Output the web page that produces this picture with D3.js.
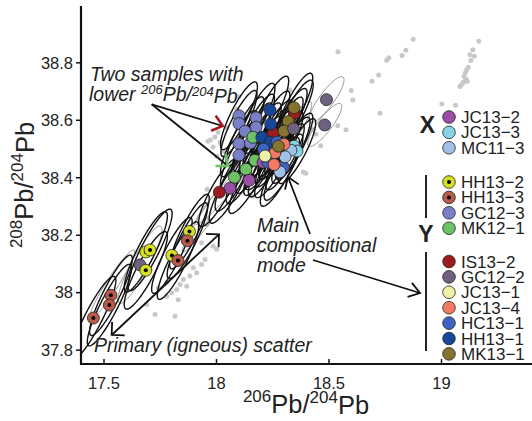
<!DOCTYPE html>
<html>
<head>
<meta charset="utf-8">
<script src="https://cdn.jsdelivr.net/npm/d3@7"></script>
<style>
body { margin: 0; background: #fff; }
text { font-family: "Liberation Sans", Arial, sans-serif; }
</style>
</head>
<body>
<div id="chart"></div>
<script>
// ---- data ----
const xTicks = [17.5, 18, 18.5, 19];
const yTicks = [37.8, 38, 38.2, 38.4, 38.6, 38.8];

const sampleNames  = ["JC13−2", "JC13−3", "MC11−3", "HH13−2", "HH13−3", "GC12−3", "MK12−1",
                      "IS13−2", "GC12−2", "JC13−1", "JC13−4", "HC13−1", "HH13−1", "MK13−1"];
const sampleColors = ["#9c4fa6", "#86d4e6", "#a3c0e6", "#d9e021", "#b95b4b", "#7a80c8", "#6ec266",
                      "#9e1b20", "#6f6180", "#eef0a8", "#f37b63", "#3f63c0", "#17479b", "#85732e"];
const dottedSamples = ["HH13−2", "HH13−3"];
const greyEllipseSamples = ["GC12−2"];

const legendGroupX  = ["JC13−2", "JC13−3", "MC11−3"];
const legendGroupY1 = ["HH13−2", "HH13−3", "GC12−3", "MK12−1"];
const legendGroupY2 = ["IS13−2", "GC12−2", "JC13−1", "JC13−4", "HC13−1", "HH13−1", "MK13−1"];

// grey background data [206Pb/204Pb, 208Pb/204Pb]
const background = [
  [18.542,38.837],[18.876,38.880],[18.844,38.842],[18.827,38.824],[18.768,38.816],[18.759,38.807],
  [18.723,38.756],[18.693,38.734],[18.601,38.702],[18.608,38.669],[18.729,38.623],[18.329,38.704],
  [19.004,38.655],[19.065,38.651],[19.168,38.873],[19.141,38.844],[19.129,38.826],[19.148,38.821],
  [19.133,38.806],[19.121,38.783],[19.114,38.774],[19.108,38.763],[19.102,38.751],[19.110,38.742],
  [19.117,38.734],[19.099,38.730],[19.090,38.721],[19.084,38.716],[18.541,38.579],[18.578,38.565],
  [18.465,38.510],[18.388,38.418],[18.399,38.414],[18.101,38.680],[18.093,38.637],[18.431,38.566],
  [18.445,38.550],
  [18.048,38.573],[18.009,38.557],[18.018,38.522],[17.964,38.525],[17.987,38.505],[18.031,38.491],
  [18.004,38.473],[18.049,38.463],[17.960,38.358],[18.164,38.334],[18.076,38.334],[17.975,38.530],
  [17.995,38.540],
  [17.969,38.253],[17.959,38.236],[17.936,38.172],[17.987,38.160],[18.003,38.149],[17.951,38.114],
  [17.936,38.096],[17.899,38.085],[17.914,38.068],[17.884,38.056],[17.855,38.044],[17.870,38.021],
  [17.840,38.027],[17.825,38.009],[17.803,37.998],[17.781,37.986],[17.832,37.974],[17.744,38.015],
  [17.692,37.957],[17.729,37.922],[17.818,37.916],[17.781,38.034]
];

// analyses: [sample, 206Pb/204Pb, 208Pb/204Pb, err206, err208, rho]
const analyses = [
  ["GC12−3", 18.102, 38.614, 0.082, 0.118, 0.86],
  ["GC12−3", 18.178, 38.607, 0.084, 0.120, 0.86],
  ["GC12−3", 18.102, 38.587, 0.080, 0.115, 0.87],
  ["GC12−3", 18.178, 38.574, 0.082, 0.115, 0.86],
  ["GC12−3", 18.129, 38.560, 0.084, 0.120, 0.87],
  ["GC12−3", 18.102, 38.517, 0.082, 0.115, 0.86],
  ["GC12−3", 18.153, 38.519, 0.086, 0.122, 0.87],
  ["GC12−3", 18.102, 38.477, 0.082, 0.115, 0.86],
  ["MK12−1", 18.164, 38.539, 0.086, 0.120, 0.87],
  ["MK12−1", 18.173, 38.459, 0.085, 0.115, 0.86],
  ["MK12−1", 18.133, 38.428, 0.088, 0.120, 0.87],
  ["MK12−1", 18.082, 38.400, 0.086, 0.118, 0.86],
  ["JC13−2", 18.147, 38.389, 0.090, 0.115, 0.87],
  ["JC13−2", 18.062, 38.362, 0.092, 0.122, 0.87],
  ["JC13−2", 18.209, 38.452, 0.086, 0.115, 0.86],
  ["IS13−2", 18.015, 38.348, 0.092, 0.120, 0.87],
  ["IS13−2", 18.255, 38.553, 0.086, 0.115, 0.86],
  ["IS13−2", 18.349, 38.623, 0.083, 0.115, 0.86],
  ["HH13−1", 18.240, 38.634, 0.083, 0.118, 0.86],
  ["HH13−1", 18.243, 38.585, 0.085, 0.115, 0.87],
  ["HH13−1", 18.204, 38.539, 0.086, 0.120, 0.86],
  ["HH13−1", 18.240, 38.522, 0.085, 0.115, 0.86],
  ["HC13−1", 18.211, 38.498, 0.086, 0.115, 0.87],
  ["HC13−1", 18.271, 38.522, 0.085, 0.118, 0.86],
  ["HC13−1", 18.231, 38.452, 0.087, 0.120, 0.86],
  ["HC13−1", 18.300, 38.435, 0.086, 0.115, 0.87],
  ["JC13−3", 18.347, 38.508, 0.083, 0.115, 0.86],
  ["JC13−3", 18.360, 38.491, 0.083, 0.113, 0.86],
  ["MC11−3", 18.333, 38.494, 0.085, 0.115, 0.86],
  ["MC11−3", 18.307, 38.471, 0.085, 0.115, 0.87],
  ["MC11−3", 18.284, 38.419, 0.087, 0.120, 0.86],
  ["JC13−4", 18.302, 38.515, 0.085, 0.115, 0.86],
  ["JC13−4", 18.262, 38.485, 0.086, 0.118, 0.87],
  ["JC13−4", 18.258, 38.444, 0.086, 0.115, 0.86],
  ["JC13−1", 18.218, 38.474, 0.087, 0.118, 0.86],
  ["MK13−1", 18.347, 38.642, 0.083, 0.120, 0.86],
  ["MK13−1", 18.321, 38.594, 0.084, 0.115, 0.86],
  ["MK13−1", 18.302, 38.561, 0.085, 0.118, 0.87],
  ["MK13−1", 18.277, 38.508, 0.085, 0.115, 0.86],
  ["GC12−2", 18.491, 38.670, 0.078, 0.080, 0.86],
  ["GC12−2", 18.483, 38.582, 0.076, 0.075, 0.86],
  ["GC12−2", 18.345, 38.569, 0.080, 0.095, 0.88],
  ["GC12−2", 17.662, 38.095, 0.098, 0.135, 0.90],
  ["HH13−2", 17.688, 38.140, 0.096, 0.140, 0.89],
  ["HH13−2", 17.707, 38.147, 0.098, 0.142, 0.89],
  ["HH13−2", 17.688, 38.076, 0.096, 0.135, 0.88],
  ["HH13−2", 17.804, 38.128, 0.090, 0.132, 0.89],
  ["HH13−2", 17.882, 38.211, 0.088, 0.130, 0.89],
  ["HH13−3", 17.831, 38.110, 0.092, 0.135, 0.89],
  ["HH13−3", 17.873, 38.179, 0.090, 0.132, 0.89],
  ["HH13−3", 17.533, 37.989, 0.095, 0.140, 0.90],
  ["HH13−3", 17.526, 37.955, 0.098, 0.142, 0.90],
  ["HH13−3", 17.455, 37.910, 0.100, 0.145, 0.90]
];

// long, poorly constrained analyses plotted as grey ellipses only
const extraEllipses = [
  [18.027, 38.341, 0.120, 0.105, 0.96],
  [17.538, 38.027, 0.100, 0.120, 0.95],
  [17.990, 38.300, 0.140, 0.160, 0.97]
];

// ---- layout ----
const width = 532, height = 421;
const margin = {top: 6, right: 1, bottom: 57, left: 81};

const svg = d3.select("#chart").append("svg")
    .attr("width", width)
    .attr("height", height);

const x = d3.scaleLinear().domain([17.4, 19.4]).range([margin.left, width - margin.right]);
const y = d3.scaleLinear().domain([37.75, 38.996]).range([height - margin.bottom, margin.top]);

const colorOf = d3.scaleOrdinal().domain(sampleNames).range(sampleColors);

svg.append("clipPath").attr("id", "plotclip")
  .append("rect")
    .attr("x", margin.left).attr("y", margin.top)
    .attr("width", width - margin.left - margin.right)
    .attr("height", height - margin.top - margin.bottom);

const plot = svg.append("g").attr("clip-path", "url(#plotclip)");

// background points
plot.append("g").selectAll("circle").data(background).enter()
  .append("circle")
    .attr("cx", d => x(d[0]))
    .attr("cy", d => y(d[1]))
    .attr("r", 2.5)
    .attr("fill", "#c8c8c8");

const ts = d3.range(0, 2 * Math.PI, Math.PI / 45);
function ellipsePath(cx, cy, sx, sy, rho) {
  const k = Math.sqrt(1 - rho * rho);
  return d3.line().curve(d3.curveLinearClosed)(ts.map(t => [
    x(cx + sx * Math.cos(t)),
    y(cy + sy * (rho * Math.cos(t) + k * Math.sin(t)))
  ]));
}

// grey ellipses
plot.append("g").selectAll("path")
    .data(extraEllipses.concat(analyses.filter(d => greyEllipseSamples.includes(d[0])).map(d => d.slice(1))))
    .enter().append("path")
    .attr("d", d => ellipsePath(d[0], d[1], d[2], d[3], d[4]))
    .attr("fill", "none")
    .attr("stroke", "#8a8a8a")
    .attr("stroke-width", 0.9);

// black ellipses
plot.append("g").selectAll("path")
    .data(analyses.filter(d => !greyEllipseSamples.includes(d[0])))
    .enter().append("path")
    .attr("d", d => ellipsePath(d[1], d[2], d[3], d[4], d[5]))
    .attr("fill", "none")
    .attr("stroke", "#111")
    .attr("stroke-width", 1.4);

// sample points
const pts = plot.append("g").selectAll("g").data(analyses).enter().append("g");
pts.append("circle")
    .attr("cx", d => x(d[1]))
    .attr("cy", d => y(d[2]))
    .attr("r", 6)
    .attr("fill", d => colorOf(d[0]))
    .attr("stroke", "#222")
    .attr("stroke-width", 0.8);
pts.filter(d => dottedSamples.includes(d[0])).append("circle")
    .attr("cx", d => x(d[1]))
    .attr("cy", d => y(d[2]))
    .attr("r", 2)
    .attr("fill", "#000");

// ---- axes ----
const xAxis = svg.append("g")
    .attr("transform", `translate(0, ${height - margin.bottom})`)
    .call(d3.axisBottom(x).tickValues(xTicks).tickSize(-5).tickPadding(13).tickFormat(d3.format("")));
const yAxis = svg.append("g")
    .attr("transform", `translate(${margin.left}, 0)`)
    .call(d3.axisLeft(y).tickValues(yTicks).tickSize(5).tickPadding(3).tickFormat(d3.format("")));

[xAxis, yAxis].forEach(a => {
  a.select(".domain").remove();
  a.selectAll(".tick line").attr("stroke", "#111").attr("stroke-width", 1.5);
  a.selectAll(".tick text").attr("font-size", 16.5).attr("fill", "#222")
    .style("font-family", "'Liberation Sans', Arial, sans-serif");
});
yAxis.selectAll(".tick text").attr("dy", "0.35em");

svg.append("line")
    .attr("x1", margin.left).attr("x2", width)
    .attr("y1", height - margin.bottom).attr("y2", height - margin.bottom)
    .attr("stroke", "#111").attr("stroke-width", 2.2);
svg.append("line")
    .attr("x1", margin.left).attr("x2", margin.left)
    .attr("y1", margin.top).attr("y2", height - margin.bottom + 1.1)
    .attr("stroke", "#111").attr("stroke-width", 2.2);

// axis titles
function isotopeTitle(sel, a, b) {
  sel.append("tspan").attr("font-size", 17).attr("dy", "-0.62em").text(a);
  sel.append("tspan").attr("font-size", 25.5).attr("dy", "0.43em").text("Pb/");
  sel.append("tspan").attr("font-size", 17).attr("dy", "-0.62em").text(b);
  sel.append("tspan").attr("font-size", 25.5).attr("dy", "0.43em").text("Pb");
}
const xt = svg.append("text")
    .attr("x", (margin.left + width - margin.right) / 2)
    .attr("y", 413)
    .attr("text-anchor", "middle")
    .attr("fill", "#222");
isotopeTitle(xt, "206", "204");

const yt = svg.append("text")
    .attr("transform", `translate(33, ${(margin.top + height - margin.bottom) / 2}) rotate(-90)`)
    .attr("text-anchor", "middle")
    .attr("fill", "#222");
isotopeTitle(yt, "208", "204");

// ---- annotations ----
function head(g, x1, y1, x2, y2, len, ang, color, sw) {
  const a = Math.atan2(y2 - y1, x2 - x1) + Math.PI;
  const p = [
    [x2 + len * Math.cos(a - ang), y2 + len * Math.sin(a - ang)],
    [x2, y2],
    [x2 + len * Math.cos(a + ang), y2 + len * Math.sin(a + ang)]
  ];
  g.append("path").attr("d", d3.line()(p)).attr("fill", "none")
    .attr("stroke", color).attr("stroke-width", sw).attr("stroke-linejoin", "miter");
}
function arrow(x1, y1, x2, y2, opts) {
  const o = Object.assign({color: "#111", headColor: "#111", both: false, len: 12, ang: 0.65, sw: 1.8, hsw: 1.8}, opts);
  const g = svg.append("g");
  g.append("line").attr("x1", x1).attr("y1", y1).attr("x2", x2).attr("y2", y2)
    .attr("stroke", o.color).attr("stroke-width", o.sw);
  head(g, x1, y1, x2, y2, o.len, o.ang, o.headColor, o.hsw);
  if (o.both) head(g, x2, y2, x1, y1, o.len, o.ang, o.headColor, o.hsw);
}

function note(lines, x0, y0, lh) {
  const t = svg.append("text").attr("font-size", 19.5).attr("font-style", "italic").attr("fill", "#222");
  lines.forEach((ln, i) => {
    t.append("tspan").attr("x", x0).attr("y", y0 + i * lh).text(ln);
  });
  return t;
}

note(["Two samples with"], 90, 81, 20);
const low = svg.append("text").attr("x", 89).attr("y", 101).attr("font-size", 19.5)
    .attr("font-style", "italic").attr("fill", "#222");
low.append("tspan").text("lower ");
low.append("tspan").attr("font-size", 13).attr("dy", "-0.55em").text("206");
low.append("tspan").attr("dy", "0.37em").text("Pb/");
low.append("tspan").attr("font-size", 13).attr("dy", "-0.37em").text("204");
low.append("tspan").attr("dy", "0.37em").text("Pb");

arrow(151.7, 104.3, 222.7, 126, {headColor: "#a3191e", hsw: 2.6, len: 12.5, ang: 0.68});
arrow(151.7, 104.3, 228, 166, {headColor: "#6ec266", hsw: 2.6, len: 12.5, ang: 0.68});

note(["Main", "compositional", "mode"], 257, 232, 20);
arrow(310, 234, 288, 177, {len: 13, ang: 0.6});
arrow(313, 260, 420, 293, {len: 13, ang: 0.6});

note(["Primary (igneous) scatter"], 94, 352, 20);
arrow(111.7, 335, 219, 234.3, {both: true, len: 13, ang: Math.PI / 4});

// ---- legend ----
const legendCx = 449, legendTx = 461, rowStep = 15.4;
function legendGroup(names, y0) {
  const g = svg.append("g");
  const rows = g.selectAll("g").data(names).enter().append("g")
      .attr("transform", (d, i) => `translate(0, ${y0 + i * rowStep})`);
  rows.append("circle").attr("cx", legendCx).attr("cy", 0).attr("r", 6.3)
      .attr("fill", d => colorOf(d)).attr("stroke", "#222").attr("stroke-width", 0.8);
  rows.filter(d => dottedSamples.includes(d)).append("circle")
      .attr("cx", legendCx).attr("cy", 0).attr("r", 2).attr("fill", "#000");
  rows.append("text").attr("x", legendTx).attr("y", 6).attr("font-size", 17)
      .attr("fill", "#222").text(d => d);
}
legendGroup(legendGroupX, 117);
legendGroup(legendGroupY1, 182);
legendGroup(legendGroupY2, 261.5);

svg.append("text").attr("x", 427.5).attr("y", 132.5).attr("text-anchor", "middle")
    .attr("font-size", 23).attr("font-weight", "bold").attr("fill", "#222").text("X");
svg.append("text").attr("x", 426).attr("y", 242).attr("text-anchor", "middle")
    .attr("font-size", 23).attr("font-weight", "bold").attr("fill", "#222").text("Y");
svg.append("line").attr("x1", 426).attr("x2", 426).attr("y1", 175).attr("y2", 218)
    .attr("stroke", "#222").attr("stroke-width", 2);
svg.append("line").attr("x1", 426).attr("x2", 426).attr("y1", 252).attr("y2", 351)
    .attr("stroke", "#222").attr("stroke-width", 2);
</script>
</body>
</html>
